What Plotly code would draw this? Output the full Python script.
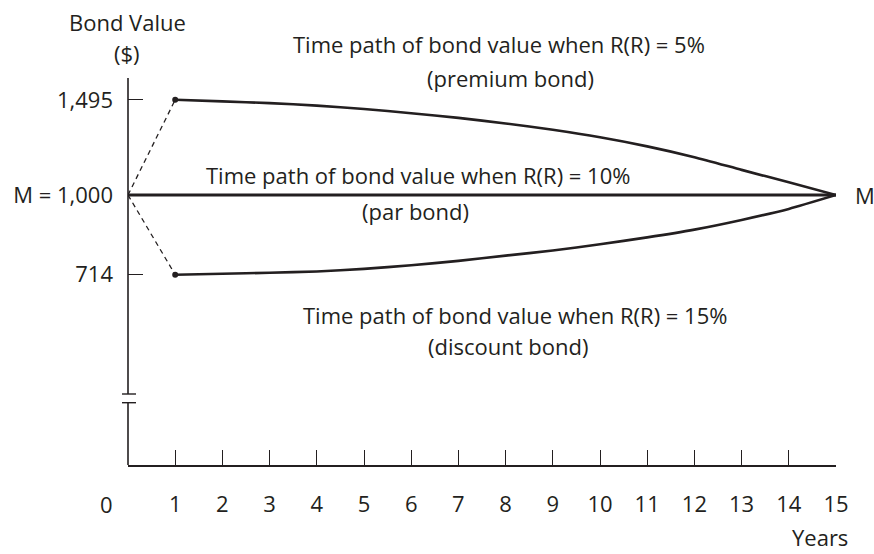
import plotly.graph_objects as go

# Years to maturity axis
years = list(range(1, 16))
year_ticks = list(range(1, 16))

# Bond value paths (in $) from year 1 to maturity at year 15
premium_values = [1495, 1485, 1474, 1459, 1438, 1413, 1385, 1353, 1317, 1276,
                  1228, 1173, 1112, 1055, 1000]
discount_values = [714, 717, 720, 724, 732, 743, 757, 774, 791, 812,
                   836, 864, 900, 943, 1000]
par_years = [0, 15]
par_values = [1000, 1000]

# Initial jump from issue (year 0, face value) to year 1 values
face_value = 1000
start_year = 0

y_tick_vals = [714, 1000, 1495]
y_tick_text = ["714", "M = 1,000", "1,495"]

INK = "#231f20"
FONT = "Open Sans"
FS = 22

# Plot area in pixels
W, H = 874, 554
L, R, T, B = 128, 836, 78, 465


def px_x(px):
    return (px - L) / (R - L)


def px_y(py):
    return (B - py) / (B - T)


fig = go.Figure()

# Dashed jumps from face value to the year-1 values
for v in (premium_values[0], discount_values[0]):
    fig.add_trace(go.Scatter(
        x=[start_year, years[0]], y=[face_value, v], mode="lines",
        line=dict(color=INK, width=1.3, dash="5px,4px"),
        hoverinfo="skip", showlegend=False, cliponaxis=False))

# Par bond
fig.add_trace(go.Scatter(
    x=par_years, y=par_values, mode="lines",
    line=dict(color=INK, width=2.8), showlegend=False, cliponaxis=False))

# Premium and discount bond paths
for vals in (premium_values, discount_values):
    fig.add_trace(go.Scatter(
        x=years, y=vals, mode="lines", line_shape="spline",
        line=dict(color=INK, width=2.6, smoothing=0.6),
        showlegend=False, cliponaxis=False))
    fig.add_trace(go.Scatter(
        x=[years[0]], y=[vals[0]], mode="markers",
        marker=dict(color=INK, size=6), showlegend=False, cliponaxis=False))

fig.update_layout(
    width=W, height=H,
    margin=dict(l=L, r=W - R, t=T, b=H - B, pad=0),
    paper_bgcolor="white", plot_bgcolor="white",
    font=dict(family=FONT, size=FS, color=INK),
    xaxis=dict(
        range=[0, 15], tickvals=year_ticks, ticktext=[str(t) for t in year_ticks],
        showgrid=False, zeroline=False, showline=True, linecolor=INK, linewidth=1.6,
        ticks="inside", ticklen=15, tickwidth=1.4, tickcolor=INK,
        ticklabelstandoff=19, tickfont=dict(size=FS, color=INK, family=FONT)),
    yaxis=dict(
        type="log", range=[2.50459, 3.21468],
        tickvals=y_tick_vals, ticktext=y_tick_text,
        showgrid=False, zeroline=False, showline=False,
        ticks="inside", ticklen=15, tickwidth=1.4, tickcolor=INK,
        ticklabelstandoff=14, tickfont=dict(size=FS, color=INK, family=FONT)),
)

# Vertical axis drawn in two parts around the break
shapes = [
    dict(type="line", xref="paper", yref="paper", x0=0, x1=0,
         y0=px_y(465), y1=px_y(402.7), line=dict(color=INK, width=1.6)),
    dict(type="line", xref="paper", yref="paper", x0=0, x1=0,
         y0=px_y(394), y1=px_y(78), line=dict(color=INK, width=1.6)),
    dict(type="line", xref="paper", yref="paper", x0=px_x(122), x1=px_x(136),
         y0=px_y(394), y1=px_y(394), line=dict(color=INK, width=1.4)),
    dict(type="line", xref="paper", yref="paper", x0=px_x(122), x1=px_x(136),
         y0=px_y(402.7), y1=px_y(402.7), line=dict(color=INK, width=1.4)),
]
fig.update_layout(shapes=shapes)


def label(text, px, py, anchor="center", yanchor="middle"):
    fig.add_annotation(text=text, xref="paper", yref="paper",
                       x=px_x(px), y=px_y(py), xanchor=anchor, yanchor=yanchor,
                       showarrow=False, font=dict(size=FS, color=INK, family=FONT))


label("Bond Value", 127, 22)
label("($)", 127, 53)
label("Time path of bond value when R(R) = 5%", 499, 44)
label("(premium bond)", 510, 78)
label("Time path of bond value when R(R) = 10%", 418, 175)
label("(par bond)", 415, 211)
label("Time path of bond value when R(R) = 15%", 515, 315)
label("(discount bond)", 508, 346)
label("M", 865, 195)
label("0", 106, 504)
label("Years", 820, 554, yanchor="bottom")

fig.write_html("out.html")
